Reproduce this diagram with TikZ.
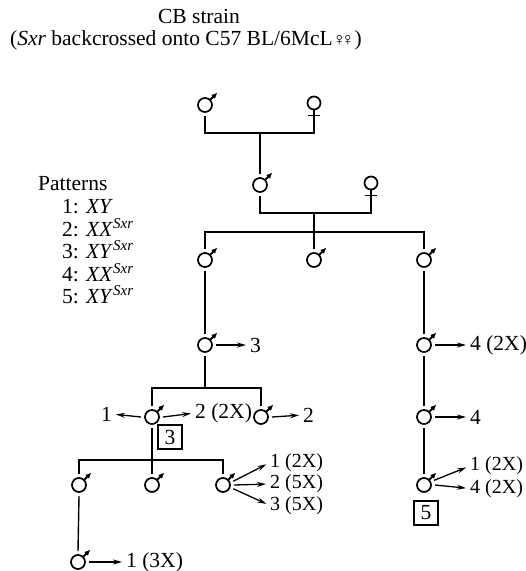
\documentclass[tikz,border=0pt]{standalone}
\usepackage{fontspec}
\setmainfont{Liberation Serif}
\usetikzlibrary{arrows.meta}
\tikzset{
  conn/.style={line width=1.4pt},
  malec/.style={circle,draw,line width=1.7pt,minimum size=14pt,inner sep=0pt,outer sep=4pt},
  maletip/.style={line width=2pt,-{Latex[length=6pt,width=5.5pt]}},
  femc/.style={circle,draw,line width=1.7pt,minimum size=13pt,inner sep=0pt,outer sep=4pt},
  femline/.style={line width=1.8pt},
  lab/.style={font=\fontsize{21.5}{23}\selectfont,inner sep=0pt},
  slab/.style={font=\fontsize{20}{21}\selectfont,inner sep=0pt},
  res/.style={line width=1.3pt,shorten >=4pt,-{Stealth[length=9pt,width=5pt]}},
  numbox/.style={draw,line width=1.3pt,minimum size=24pt,inner sep=0pt,font=\fontsize{21.5}{23}\selectfont}
}
\newcommand\malesym[2]{\node[malec] (#1) at (#2) {};
  \draw[maletip] (#1.center) ++(4.9,-4.9) -- ++(7.5,-7.5);}
\newcommand\femsym[2]{\node[femc] (#1) at (#2) {};
  \draw[femline] (#1.center) ++(0,6.5) -- ++(0,12) coordinate (#1s);
  \draw[femline] (#1.center) ++(-6,12.5) -- ++(12,0);}
\begin{document}
\begin{tikzpicture}[x=1pt,y=-1pt]
\useasboundingbox (0,0) rectangle (526,571);
% titles
\node[lab,anchor=base] (title1) at (199,23) {CB strain};
\node[lab,anchor=base] (title2) at (186,45.5) {(\textit{Sxr} backcrossed onto C57 BL/6McL{\fontsize{18}{18}\selectfont ♀\kern-5pt♀})};
% patterns
\node[lab,anchor=base west] (pt) at (38,190) {Patterns};
\node[lab,anchor=base west] (p1) at (62,213) {1: \textit{XY}};
\node[lab,anchor=base west] (p2) at (62,236) {2: \textit{XX}\textsuperscript{\itshape Sxr}};
\node[lab,anchor=base west] (p3) at (62,258) {3: \textit{XY}\textsuperscript{\itshape Sxr}};
\node[lab,anchor=base west] (p4) at (62,281) {4: \textit{XX}\textsuperscript{\itshape Sxr}};
\node[lab,anchor=base west] (p5) at (62,303) {5: \textit{XY}\textsuperscript{\itshape Sxr}};
% generation 1
\malesym{M1}{205,105}
\femsym{F1}{314,103}
\coordinate (J1) at (260,133);
\draw[conn] (M1.south) |- (J1) -| (F1s);
% generation 2
\malesym{M2}{260,185}
\femsym{F2}{371,183}
\draw[conn] (J1) -- (M2.north);
\coordinate (J2) at (314,213);
\draw[conn] (M2.south) |- (J2) -| (F2s);
% children
\malesym{C1}{205,260}
\malesym{C2}{314,260}
\malesym{C3}{424,260}
\coordinate (S1) at (314,232);
\draw[conn] (J2) -- (C2.north);
\draw[conn] (C1.north) |- (S1) -| (C3.north);
% left branch
\malesym{M3}{205,345}
\draw[conn] (C1.south) -- (M3.north);
\node[lab,anchor=west] (t3) at (250,345) {3};
\draw[res] (M3.east) -- (t3.west);
\coordinate (S2) at (205,388);
\malesym{M4}{152,417}
\malesym{M5}{261,417}
\draw[conn] (M3.south) -- (S2);
\draw[conn] (M4.north) |- (S2) -| (M5.north);
\node[lab,anchor=east] (t1a) at (112,414) {1};
\draw[res] (M4.west) -- (t1a.east);
\node[lab,anchor=west] (t2a) at (195,413) {2 (2X)};
\draw[res] (M4.east) -- (t2a.west);
\node[lab,anchor=west] (t2b) at (303,415) {2};
\draw[res] (M5.east) -- (t2b.west);
\node[numbox] (b3) at (170,437) {3};
% grandchildren
\coordinate (S3) at (152,460);
\malesym{M6}{79,485}
\malesym{M7}{152,485}
\malesym{M8}{223,485}
\draw[conn] (M4.south) -- (S3);
\draw[conn] (S3) -- (M7.north);
\draw[conn] (M6.north) |- (S3) -| (M8.north);
\node[slab,anchor=west] (f1) at (270,462.5) {1 (2X)};
\node[slab,anchor=west] (f2) at (270,484) {2 (5X)};
\node[slab,anchor=west] (f3) at (270,505.5) {3 (5X)};
\draw[res] (M8.20) -- (f1.west);
\draw[res] (M8.east) -- (f2.west);
\draw[res] (M8.-20) -- (f3.west);
\malesym{M9}{78,562}
\draw[conn] (M6.south) -- (M9.north);
\node[lab,anchor=west] (t1c) at (126,562) {1 (3X)};
\draw[res] (M9.east) -- (t1c.west);
% right branch
\malesym{M10}{424,345}
\draw[conn] (C3.south) -- (M10.north);
\node[lab,anchor=west] (t4a) at (470,345) {4 (2X)};
\draw[res] (M10.east) -- (t4a.west);
\malesym{M11}{424,417}
\draw[conn] (M10.south) -- (M11.north);
\node[lab,anchor=west] (t4b) at (470,417) {4};
\draw[res] (M11.east) -- (t4b.west);
\malesym{M12}{424,485}
\draw[conn] (M11.south) -- (M12.north);
\node[slab,anchor=west] (g1) at (470,466) {1 (2X)};
\node[slab,anchor=west] (g2) at (470,488.5) {4 (2X)};
\draw[res] (M12.25) -- (g1.west);
\draw[res] (M12.east) -- (g2.west);
\node[numbox] (b5) at (426,513) {5};
\end{tikzpicture}
\end{document}
